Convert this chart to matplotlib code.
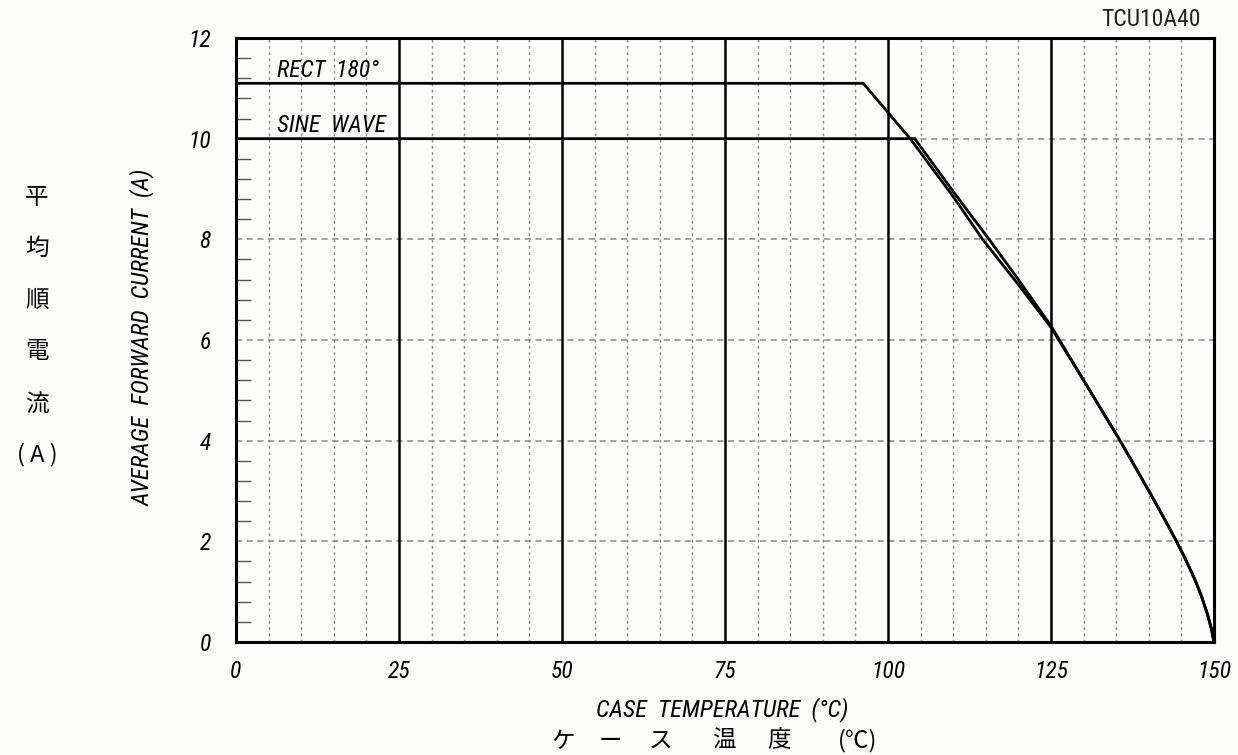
import matplotlib
matplotlib.use("Agg")
import matplotlib.pyplot as plt
from matplotlib.ticker import MultipleLocator
from matplotlib import font_manager

# ---- data ----
temp_ticks = [0, 25, 50, 75, 100, 125, 150]
current_ticks = [0, 2, 4, 6, 8, 10, 12]

rect_temp = [0, 96.2, 103.4, 110.0, 114.5, 120.0, 125.0, 130.0, 135.6, 140.2, 142.0, 144.0, 145.5, 147.0, 148.0, 149.0, 149.6, 150.0]
rect_curr = [11.1, 11.1, 10.0, 8.85, 8.0, 7.1, 6.25, 5.2, 4.0, 2.96, 2.54, 2.06, 1.68, 1.26, 0.94, 0.55, 0.26, 0.0]

sine_temp = [0, 104.1, 110.0, 115.5, 120.0, 125.0, 130.0, 135.6, 140.2, 142.0, 144.0, 145.5, 147.0, 148.0, 149.0, 149.6, 150.0]
sine_curr = [10.0, 10.0, 8.95, 8.0, 7.2, 6.28, 5.2, 4.0, 2.96, 2.54, 2.06, 1.68, 1.26, 0.94, 0.55, 0.26, 0.0]

series_labels = ["RECT  180°", "SINE  WAVE"]
part_no = "TCU10A40"
ylabel_en = "AVERAGE  FORWARD  CURRENT  (A)"
xlabel_en = "CASE  TEMPERATURE  (°C)"
ylabel_jp = ["平", "均", "順", "電", "流", "( A )"]
xlabel_jp = ["ケ", "ー", "ス", "温", "度", "(℃)"]

# ---- style ----
avail = {f.name for f in font_manager.fontManager.ttflist}
NARROW_NAME = "DejaVu Sans"
for cand in ["Liberation Sans Narrow", "Roboto Condensed", "Open Sans Condensed",
             "DejaVu Sans Condensed", "Arial Narrow", "Liberation Sans"]:
    if cand in avail:
        NARROW_NAME = cand
        break
NARROW = [NARROW_NAME, "DejaVu Sans"]
CJK = ["Noto Sans CJK JP", "DejaVu Sans"]
BG = "#fcfcf8"

W, H = 1238, 755
fig = plt.figure(figsize=(W / 100, H / 100), dpi=100, facecolor=BG)
L, R, T, B = 236, 1214, 38, 642
ax = fig.add_axes([L / W, 1 - B / H, (R - L) / W, (B - T) / H])
ax.set_facecolor(BG)

ax.set_xlim(0, 150)
ax.set_ylim(0, 12)

# grid: dotted verticals every 5, solid every 25
for t in range(5, 150, 5):
    if t % 25 == 0:
        ax.axvline(t, color="black", lw=1.8, zorder=2)
    else:
        ax.axvline(t, color="#8a8a8a", lw=1.0, ls=(0, (2, 2.5)), zorder=1)
for c in current_ticks[1:-1]:
    ax.axhline(c, color="#8a8a8a", lw=1.1, ls=(0, (4, 3)), zorder=1)

# curves
ax.plot(rect_temp, rect_curr, color="black", lw=2.0, zorder=3)
ax.plot(sine_temp, sine_curr, color="black", lw=2.0, zorder=3)

ax.text(6.3, 11.36, series_labels[0], family=NARROW, style="italic", fontsize=17,
        va="center", ha="left", zorder=4)
ax.text(6.3, 10.26, series_labels[1], family=NARROW, style="italic", fontsize=17,
        va="center", ha="left", zorder=4)

# ticks
ax.set_xticks(temp_ticks)
ax.set_yticks(current_ticks)
ax.yaxis.set_minor_locator(MultipleLocator(0.4))
ax.tick_params(axis="x", which="both", length=0, pad=13)
ax.tick_params(axis="y", which="major", length=0, pad=18)
ax.tick_params(axis="y", which="minor", direction="in", length=11, width=1.0, color="#555555")
for lab in ax.get_xticklabels() + ax.get_yticklabels():
    lab.set_family(NARROW)
    lab.set_style("italic")
    lab.set_fontsize(17)

for sp in ax.spines.values():
    sp.set_linewidth(2.2)
    sp.set_zorder(5)

# labels
fig.text(1201 / W, 1 - 20 / H, part_no, ha="right", va="center",
         family=NARROW, fontsize=17, color="#222222")

fig.text(142 / W, 1 - 337 / H, ylabel_en, rotation=90, ha="center", va="center",
         family=NARROW, style="italic", fontsize=17.5)
fig.text(722 / W, 1 - 710 / H, xlabel_en, ha="center", va="center",
         family=NARROW, style="italic", fontsize=17.5)

jp_y = [197, 248, 300, 352, 404, 455]
for ch, yy in zip(ylabel_jp, jp_y):
    fig.text(37 / W, 1 - yy / H, ch, ha="center", va="center", family=CJK, fontsize=17)

jp_x = [563, 610, 660, 724, 779, 858]
for ch, xx in zip(xlabel_jp, jp_x):
    fig.text(xx / W, 1 - 741 / H, ch, ha="center", va="center", family=CJK, fontsize=17)

fig.savefig("out.png", dpi=100, facecolor=BG)
